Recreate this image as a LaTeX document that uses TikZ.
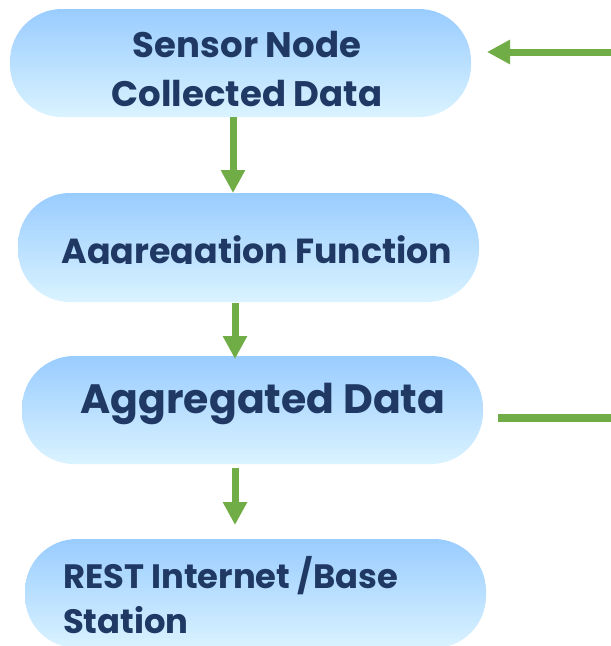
\documentclass[tikz,border=0pt]{standalone}
\usepackage{fontspec}
\setmainfont{Poppins}
\usetikzlibrary{arrows.meta}
\definecolor{boxtop}{HTML}{99CCFF}
\definecolor{boxbot}{HTML}{DAF3FF}
\definecolor{flowgreen}{HTML}{70AD47}
\definecolor{navy}{HTML}{1F3864}
\tikzset{
  pill/.style={rounded corners=52pt, top color=boxtop, bottom color=boxbot, draw=none},
  label/.style={text=navy, inner sep=0pt},
  flow/.style={draw=flowgreen, line width=7pt, -{Triangle[length=23pt,width=23pt]}},
  link/.style={draw=flowgreen, line width=8pt}
}
\newcommand\labfont[1]{\bfseries\fontsize{#1}{#1}\selectfont}
\begin{document}
\begin{tikzpicture}[x=1pt,y=-1pt]
\useasboundingbox (0,0) rectangle (611,646);
% boxes
\path[pill] (10,9) rectangle (471,117);
\path[pill] (18,193) rectangle (479,302);
\path[pill] (22,356) rectangle (483,464);
\path[pill] (25,539) rectangle (486,648);
\coordinate (b1s) at (233,117);
\coordinate (b2n) at (233,193);
\coordinate (b2s) at (235,303);
\coordinate (b3n) at (235,359);
\coordinate (b3s) at (235,468);
\coordinate (b4n) at (235,525);
% labels
\node[label, font=\labfont{35.5}, anchor=base] (t1) at (247,57) {Sensor Node};
\node[label, font=\labfont{35.5}, anchor=base] (t2) at (247,106) {Collected Data};
\begin{scope}
\clip (0,200) rectangle (611,263);
\node[label, font=\labfont{34.8}, anchor=base] (t3) at (257,263) {Aggregation Function};
\end{scope}
\node[label, font=\labfont{41}, anchor=base] (t4) at (263,413) {Aggregated Data};
\node[label, font=\labfont{33.8}, anchor=base west] (t5) at (63,588) {REST Internet /Base};
\node[label, font=\labfont{33.8}, anchor=base west] (t6) at (63,633) {Station};
% connectors
\draw[flow] (b1s) -- (b2n);
\draw[flow] (b2s) -- (b3n);
\draw[flow] (b3s) -- (b4n);
\coordinate (rin) at (620,52);
\coordinate (tip1) at (487,52);
\draw[flow] (rin) -- (tip1);
\coordinate (aout) at (498,418);
\coordinate (rout) at (620,418);
\draw[link] (aout) -- (rout);
\end{tikzpicture}
\end{document}
